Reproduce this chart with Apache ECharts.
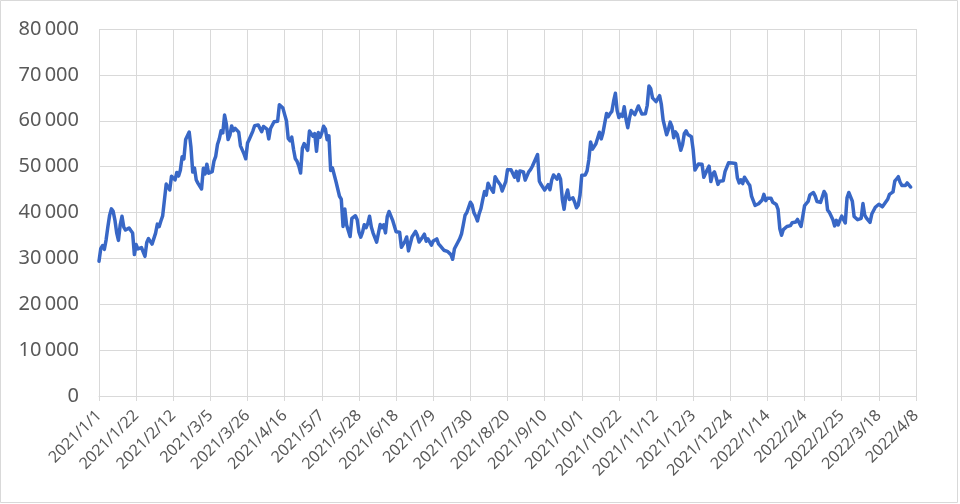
<!DOCTYPE html>
<html>
<head>
<meta charset="utf-8">
<script src="https://cdn.jsdelivr.net/npm/echarts@6/dist/echarts.min.js"></script>
<style>
  html, body { margin: 0; padding: 0; background: #ffffff; }
  #chart { width: 960px; height: 504px; }
</style>
</head>
<body>
<div id="chart"></div>
<script>
// Daily values (2021/1/1 .. 2022/4/5)
const y2021Jan = [29374, 32127, 32782, 31971, 33992, 36824, 39371, 40797, 40254, 38356, 35566, 33922, 37316, 39187, 36825, 36178, 35792, 36630, 36069, 35547, 30825, 33005, 32067, 32289, 32366, 32569, 30432, 33466, 34316, 34269, 33114];
const y2021Feb = [33537, 35510, 37472, 36926, 38144, 39266, 38903, 46196, 46481, 44918, 47909, 47504, 47105, 48717, 47945, 49199, 52149, 51679, 55888, 56099, 57539, 54207, 48824, 49705, 47093, 46339, 46188, 45137];
const y2021Mar = [49631, 48378, 50538, 48561, 48927, 48912, 51206, 52246, 54824, 56008, 57805, 57332, 61243, 59302, 55907, 56804, 58870, 57858, 58346, 58313, 57523, 54529, 54738, 52774, 51704, 55137, 55974, 55947, 57750, 58917, 58918];
const y2021Apr = [59095, 59384, 57603, 58758, 59057, 58192, 56048, 58323, 58245, 59793, 60204, 59893, 63503, 63109, 62757, 61334, 60006, 56150, 55633, 56425, 53787, 51726, 51153, 50110, 48600, 54021, 55033, 54824, 53555, 57750];
const y2021May = [57828, 56631, 57200, 53333, 57424, 56396, 57356, 58803, 58232, 55859, 56704, 49150, 49716, 49880, 46760, 46456, 43538, 42909, 36964, 40784, 37304, 37536, 34770, 38705, 38402, 39294, 38436, 35697, 34616, 35678, 37332];
const y2021Jun = [36684, 37575, 39188, 36825, 35520, 35796, 33552, 33380, 37388, 36702, 37334, 35552, 39097, 40218, 40406, 38347, 38053, 35788, 35615, 35698, 32400, 32505, 33723, 34663, 31637, 31300, 34650, 34434, 35867, 35041];
const y2021Jul = [33572, 33897, 34668, 35287, 33746, 34235, 33855, 32877, 33798, 33520, 34240, 33155, 32702, 32822, 31780, 31421, 31533, 31796, 30817, 29807, 32110, 32313, 33581, 34292, 35350, 37337, 39406, 39995, 40008, 42235, 41626];
const y2021Aug = [39974, 39201, 38152, 39747, 40869, 42816, 44555, 43798, 46365, 45585, 45593, 44428, 47793, 47096, 47047, 46004, 44695, 44801, 46717, 49339, 48905, 49321, 49546, 47706, 48960, 46942, 49058, 48902, 48830, 47054, 47166];
const y2021Sep = [48847, 49328, 50025, 49944, 51753, 52633, 46811, 46091, 46391, 44883, 45201, 46063, 44963, 47092, 48176, 47783, 47267, 48278, 47260, 42843, 40693, 43574, 44895, 42839, 42716, 43208, 42236, 41034, 41564, 43790];
const y2021Oct = [48116, 47711, 48199, 49112, 51514, 55361, 53805, 53967, 54968, 54771, 57484, 56041, 57401, 57321, 61593, 60892, 61553, 62026, 64262, 65992, 62210, 60692, 61393, 60931, 63039, 60363, 58483, 60622, 62228, 61889, 61318];
const y2021Nov = [61004, 63226, 62970, 61452, 61125, 61527, 63326, 67566, 66971, 64995, 64949, 64155, 64469, 65466, 63557, 60161, 60368, 56942, 58120, 59697, 58731, 56289, 57569, 57005, 57229, 53569, 54816, 57248, 57806, 57006];
const y2021Dec = [56881, 56510, 53602, 49253, 49369, 50582, 50701, 50505, 47673, 47243, 49363, 50098, 46737, 48379, 48864, 47632, 46131, 46834, 46681, 46914, 48890, 48588, 50839, 50429, 50810, 50640, 50701, 47544, 46465, 47120, 46306];
const y2022Jan = [47686, 47345, 46458, 45897, 43569, 43160, 41558, 41734, 41912, 41822, 42736, 43949, 42592, 43099, 43177, 43114, 42250, 42375, 41744, 40680, 36458, 35030, 36276, 36654, 36954, 36852, 37138, 37784, 38138, 37917, 38483];
const y2022Feb = [38743, 36952, 37154, 41501, 41441, 42412, 43841, 44118, 44339, 43565, 42408, 42244, 42197, 42586, 44575, 43961, 40538, 40030, 40122, 38431, 37075, 38286, 37296, 38332, 39214, 39105, 37709, 43193];
const y2022Mar = [44354, 43925, 42452, 39137, 39400, 38420, 37988, 38731, 41941, 39438, 38795, 38904, 37850, 39666, 39338, 41143, 40951, 41801, 42191, 41247, 41077, 42358, 42892, 43960, 44348, 44500, 46820, 47300, 47800, 46600, 45900];
const y2022Apr = [46281, 45868, 46453, 46622, 45555];

// Category range of the axis (daily), 2021/1/1 .. 2022/4/8
const startDate = [2021, 1, 1];
const endDate = [2022, 4, 8];
const yTicks = [0, 10000, 20000, 30000, 40000, 50000, 60000, 70000, 80000];

const values = [].concat(y2021Jan, y2021Feb, y2021Mar, y2021Apr, y2021May, y2021Jun,
  y2021Jul, y2021Aug, y2021Sep, y2021Oct, y2021Nov, y2021Dec,
  y2022Jan, y2022Feb, y2022Mar, y2022Apr);

const categories = [];
{
  let d = Date.UTC(startDate[0], startDate[1] - 1, startDate[2]);
  const e = Date.UTC(endDate[0], endDate[1] - 1, endDate[2]);
  while (d <= e) {
    const dt = new Date(d);
    categories.push(dt.getUTCFullYear() + '/' + (dt.getUTCMonth() + 1) + '/' + dt.getUTCDate());
    d += 86400000;
  }
}

const chart = echarts.init(document.getElementById('chart'), null, { renderer: 'canvas' });
const gridColor = '#d9d9d9';
const textColor = '#595959';
const fontFamily = '"Noto Sans", "Open Sans", sans-serif';

chart.setOption({
  animation: false,
  backgroundColor: '#ffffff',
  graphic: [{
    type: 'rect',
    shape: { x: 0.5, y: 0.5, width: 957, height: 502 },
    style: { fill: 'none', stroke: '#d9d9d9', lineWidth: 1 },
    silent: true
  }],
  grid: { left: 99, right: 44, top: 29, bottom: 108, containLabel: false },
  xAxis: {
    type: 'category',
    data: categories,
    boundaryGap: false,
    axisLine: { show: true, lineStyle: { color: gridColor, width: 1 } },
    axisTick: { show: true, interval: 20, length: 5, lineStyle: { color: gridColor } },
    splitLine: { show: true, interval: 20, lineStyle: { color: gridColor, width: 1 } },
    axisLabel: {
      interval: 20,
      rotate: 45,
      margin: 17,
      color: textColor,
      fontSize: 16,
      fontFamily: fontFamily
    }
  },
  yAxis: {
    type: 'value',
    min: yTicks[0],
    max: yTicks[yTicks.length - 1],
    interval: yTicks[1] - yTicks[0],
    axisLine: { show: false },
    axisTick: { show: false },
    splitLine: { show: true, lineStyle: { color: gridColor, width: 1 } },
    axisLabel: {
      margin: 20,
      color: textColor,
      fontSize: 20,
      fontFamily: fontFamily,
      formatter: function (v) {
        return v === 0 ? '0' : (v / 1000) + '\u2009000';
      }
    }
  },
  series: [{
    type: 'line',
    data: values,
    showSymbol: false,
    symbol: 'none',
    lineStyle: { color: '#3867c6', width: 3.5, join: 'round', cap: 'round' },
    itemStyle: { color: '#3867c6' }
  }]
});
</script>
</body>
</html>
